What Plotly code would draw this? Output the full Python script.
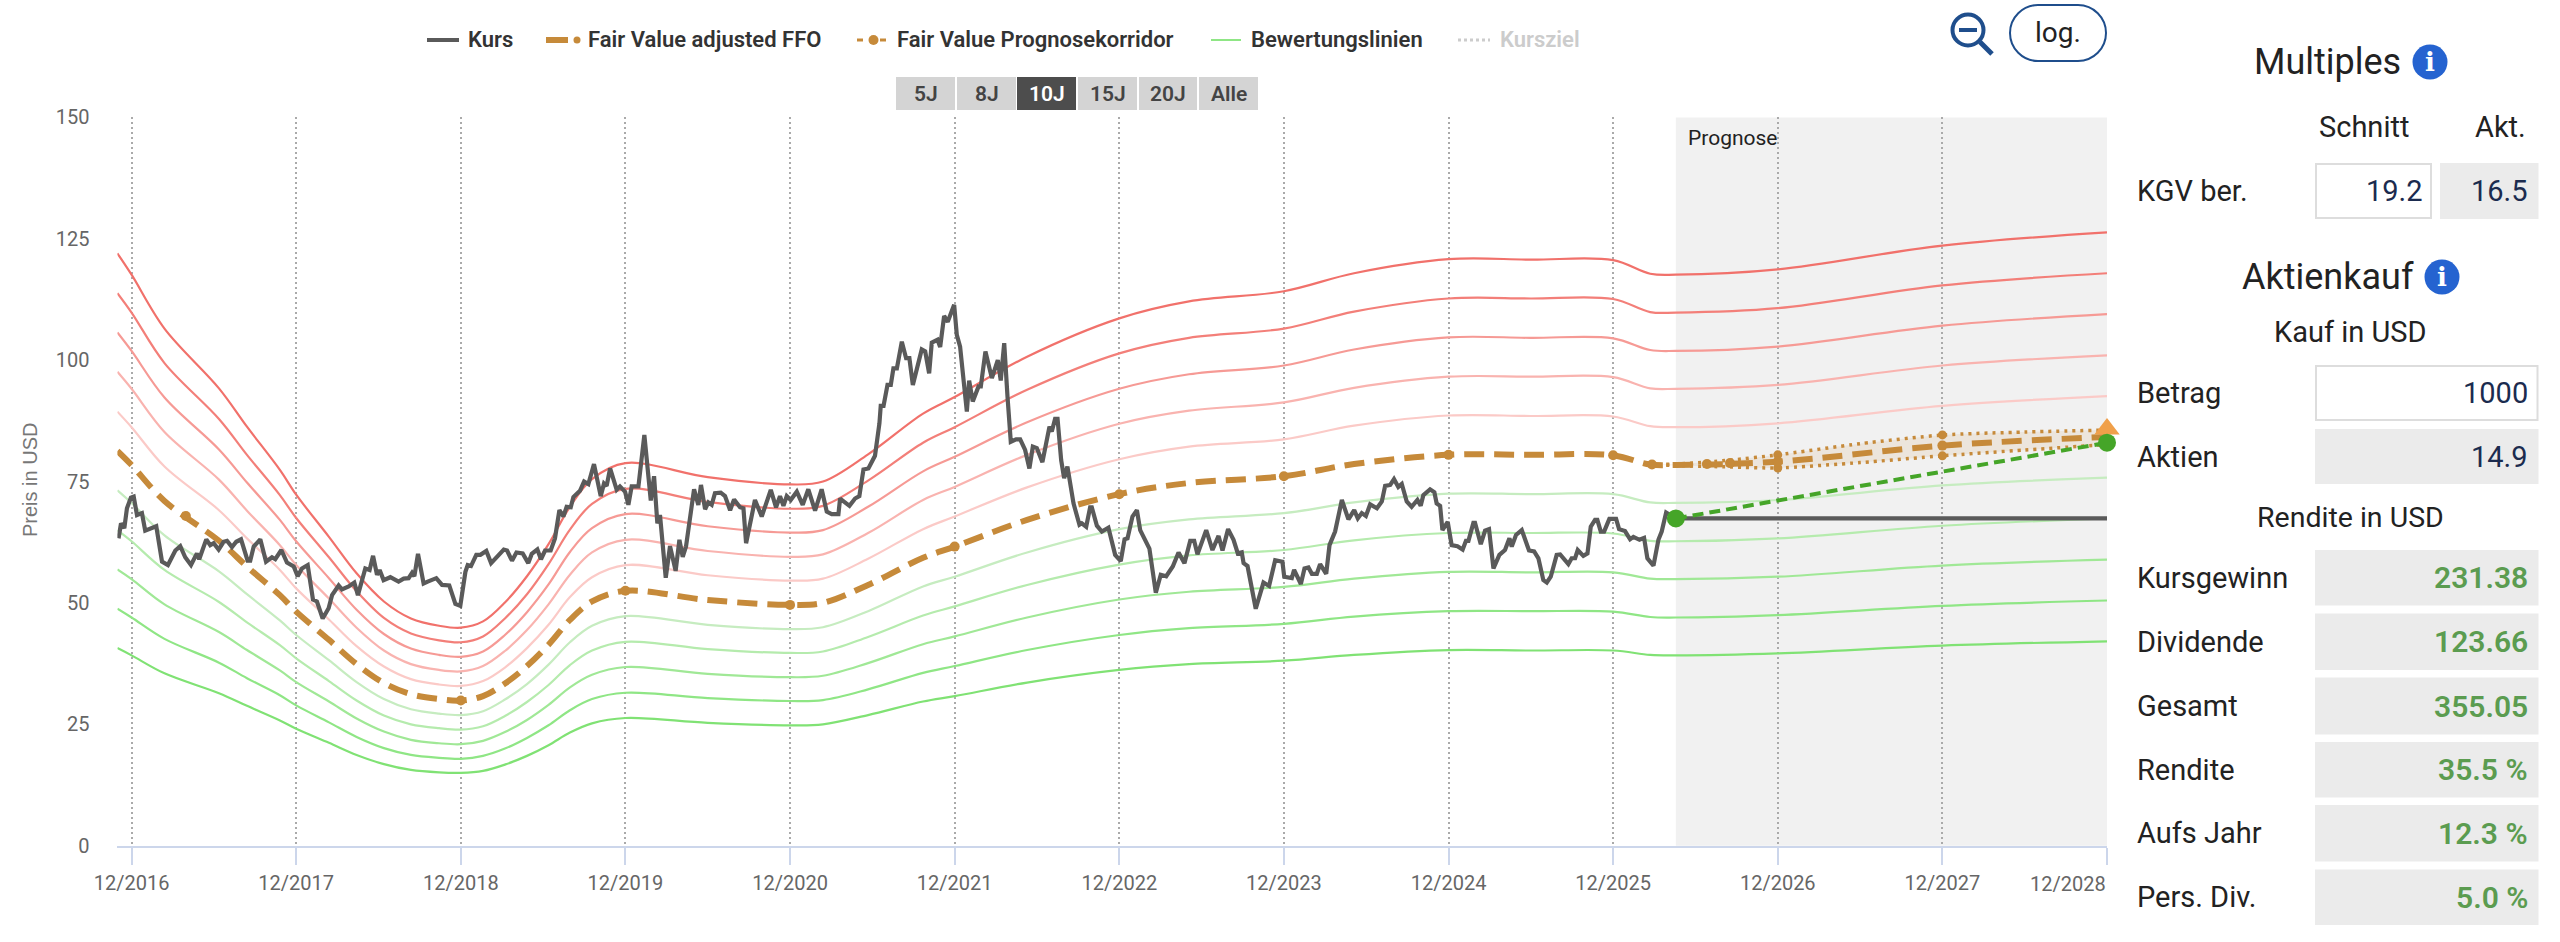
import plotly.graph_objects as go

W = 2560
H = 942

# x values are decimal years, 2017.0 is the tick "12/2016"
tick_years = [2017, 2018, 2019, 2020, 2021, 2022, 2023, 2024, 2025, 2026, 2027, 2028, 2029]
tick_labels = ["12/2016", "12/2017", "12/2018", "12/2019", "12/2020", "12/2021", "12/2022",
               "12/2023", "12/2024", "12/2025", "12/2026", "12/2027", ""]
y_ticks = [0, 25, 50, 75, 100, 125, 150]
forecast_start = 2026.381
x_end = 2029.0

fv_years = [2016.914, 2017.0, 2017.2, 2017.531, 2017.701, 2017.901, 2018.0, 2018.199, 2018.367, 2018.533,
            2018.697, 2018.868, 2019.0, 2019.135, 2019.268, 2019.402, 2019.533, 2019.663, 2019.797, 2020.0,
            2020.5, 2021.0, 2021.2, 2021.474, 2021.808, 2022.0, 2022.44, 2023.0, 2023.424, 2024.0,
            2024.426, 2025.0, 2025.5, 2026.0, 2026.225, 2026.381, 2027.0, 2028.0, 2029.0]
fair_value = [81.3, 78.4, 71.0, 62.8, 57.5, 51.6, 48.2, 42.4, 37.4, 33.5, 31.2, 30.2, 29.9, 30.8, 33.4, 37.0,
              41.4, 46.5, 50.3, 52.5, 50.6, 49.6, 50.0, 53.7, 59.3, 61.6, 67.1, 72.4, 74.7, 76.1, 78.6, 80.5,
              80.5, 80.4, 78.5, 78.4, 79.1, 82.4, 84.2]
red_150 = [122.0, 117.6, 106.5, 94.2, 86.3, 77.4, 72.3, 63.6, 56.1, 50.3, 46.8, 45.3, 44.9, 46.2, 50.1, 55.5,
           62.1, 69.8, 75.5, 78.8, 75.9, 74.4, 75.0, 80.6, 89.0, 92.4, 100.7, 108.6, 112.1, 114.2, 117.9, 120.8,
           120.7, 120.6, 117.8, 117.6, 118.7, 123.6, 126.3]
red_140 = [113.8, 109.8, 99.4, 87.9, 80.5, 72.2, 67.5, 59.4, 52.4, 46.9, 43.7, 42.3, 41.9, 43.1, 46.8, 51.8,
           58.0, 65.1, 70.4, 73.5, 70.8, 69.4, 70.0, 75.2, 83.0, 86.2, 93.9, 101.4, 104.6, 106.5, 110.0, 112.7,
           112.7, 112.6, 109.9, 109.8, 110.7, 115.4, 117.9]
red_130 = [105.7, 101.9, 92.3, 81.6, 74.8, 67.1, 62.7, 55.1, 48.6, 43.6, 40.6, 39.3, 38.9, 40.0, 43.4, 48.1,
           53.8, 60.5, 65.4, 68.3, 65.8, 64.5, 65.0, 69.8, 77.1, 80.1, 87.2, 94.1, 97.1, 98.9, 102.2, 104.7,
           104.6, 104.5, 102.1, 101.9, 102.8, 107.1, 109.5]
red_120 = [97.6, 94.1, 85.2, 75.4, 69.0, 61.9, 57.8, 50.9, 44.9, 40.2, 37.4, 36.2, 35.9, 37.0, 40.1, 44.4,
           49.7, 55.8, 60.4, 63.0, 60.7, 59.5, 60.0, 64.4, 71.2, 73.9, 80.5, 86.9, 89.6, 91.3, 94.3, 96.6,
           96.6, 96.5, 94.2, 94.1, 94.9, 98.9, 101.0]
red_110 = [89.4, 86.2, 78.1, 69.1, 63.3, 56.8, 53.0, 46.6, 41.1, 36.9, 34.3, 33.2, 32.9, 33.9, 36.7, 40.7,
           45.5, 51.2, 55.3, 57.8, 55.7, 54.6, 55.0, 59.1, 65.2, 67.8, 73.8, 79.6, 82.2, 83.7, 86.5, 88.6,
           88.5, 88.4, 86.4, 86.2, 87.0, 90.6, 92.6]
green_90 = [73.2, 70.6, 63.9, 56.5, 51.8, 46.4, 43.4, 38.2, 33.7, 30.2, 28.1, 27.2, 26.9, 27.7, 30.1, 33.3,
            37.3, 41.9, 45.3, 47.3, 45.5, 44.6, 45.0, 48.3, 53.4, 55.4, 60.4, 65.2, 67.2, 68.5, 70.7, 72.5,
            72.4, 72.4, 70.7, 70.6, 71.2, 74.2, 75.8]
green_80 = [65.0, 62.7, 56.8, 50.2, 46.0, 41.3, 38.6, 33.9, 29.9, 26.8, 25.0, 24.2, 23.9, 24.6, 26.7, 29.6,
            33.1, 37.2, 40.2, 42.0, 40.5, 39.7, 40.0, 43.0, 47.4, 49.3, 53.7, 57.9, 59.8, 60.9, 62.9, 64.4,
            64.4, 64.3, 62.8, 62.7, 63.3, 65.9, 67.4]
green_70 = [56.9, 54.9, 49.7, 44.0, 40.3, 36.1, 33.7, 29.7, 26.2, 23.5, 21.8, 21.1, 20.9, 21.6, 23.4, 25.9,
            29.0, 32.6, 35.2, 36.8, 35.4, 34.7, 35.0, 37.6, 41.5, 43.1, 47.0, 50.7, 52.3, 53.3, 55.0, 56.4,
            56.3, 56.3, 55.0, 54.9, 55.4, 57.7, 58.9]
green_60 = [48.8, 47.0, 42.6, 37.7, 34.5, 31.0, 28.9, 25.4, 22.4, 20.1, 18.7, 18.1, 17.9, 18.5, 20.0, 22.2,
            24.8, 27.9, 30.2, 31.5, 30.4, 29.8, 30.0, 32.2, 35.6, 37.0, 40.3, 43.4, 44.8, 45.7, 47.2, 48.3,
            48.3, 48.2, 47.1, 47.0, 47.5, 49.4, 50.5]
green_50 = [40.7, 39.2, 35.5, 31.4, 28.8, 25.8, 24.1, 21.2, 18.7, 16.8, 15.6, 15.1, 15.0, 15.4, 16.7, 18.5,
            20.7, 23.3, 25.2, 26.3, 25.3, 24.8, 25.0, 26.9, 29.7, 30.8, 33.6, 36.2, 37.4, 38.1, 39.3, 40.3,
            40.2, 40.2, 39.3, 39.2, 39.6, 41.2, 42.1]

fv_dot_years = [2017.33, 2019.0, 2020.0, 2021.0, 2022.0, 2023.0, 2024.0, 2025.0, 2026.0,
                2026.236, 2026.57, 2026.71, 2027.0, 2028.0]
fv_dot_values = [67.9, 29.9, 52.5, 49.6, 61.6, 72.4, 76.1, 80.5, 80.4,
                 78.5, 78.6, 78.8, 79.1, 82.4]

corridor_years = [2026.225, 2026.381, 2026.71, 2027.0, 2027.5, 2028.0, 2028.5, 2029.0]
corridor_high = [78.5, 78.6, 79.4, 80.5, 82.8, 84.6, 85.2, 85.6]
corridor_low = [78.5, 78.3, 78.0, 77.8, 78.9, 80.3, 81.5, 82.6]
corridor_dot_years = [2027.0, 2027.0, 2028.0, 2028.0]
corridor_dot_values = [80.5, 77.8, 84.6, 80.3]

kurs_years = [2016.921, 2016.936, 2016.956, 2016.972, 2016.996, 2017.013, 2017.033, 2017.063, 2017.083, 2017.150,
              2017.185, 2017.221, 2017.266, 2017.296, 2017.326, 2017.361, 2017.397, 2017.411, 2017.454, 2017.478,
              2017.499, 2017.529, 2017.559, 2017.580, 2017.610, 2017.636, 2017.665, 2017.705, 2017.721, 2017.742,
              2017.782, 2017.817, 2017.853, 2017.873, 2017.910, 2017.944, 2017.985, 2018.009, 2018.035, 2018.070,
              2018.102, 2018.126, 2018.161, 2018.197, 2018.218, 2018.258, 2018.278, 2018.319, 2018.353, 2018.375,
              2018.420, 2018.446, 2018.467, 2018.491, 2018.507, 2018.531, 2018.572, 2018.622, 2018.653, 2018.683,
              2018.704, 2018.718, 2018.740, 2018.774, 2018.799, 2018.851, 2018.886, 2018.930, 2018.967, 2018.997,
              2019.028, 2019.042, 2019.062, 2019.094, 2019.119, 2019.155, 2019.184, 2019.220, 2019.261, 2019.281,
              2019.311, 2019.338, 2019.376, 2019.410, 2019.431, 2019.465, 2019.487, 2019.512, 2019.546, 2019.572,
              2019.599, 2019.623, 2019.643, 2019.668, 2019.684, 2019.724, 2019.749, 2019.775, 2019.809, 2019.850,
              2019.870, 2019.886, 2019.907, 2019.947, 2019.967, 2019.998, 2020.018, 2020.038, 2020.079, 2020.115,
              2020.154, 2020.174, 2020.194, 2020.210, 2020.245, 2020.271, 2020.305, 2020.328, 2020.348, 2020.368,
              2020.417, 2020.443, 2020.459, 2020.484, 2020.504, 2020.524, 2020.544, 2020.579, 2020.605, 2020.636,
              2020.660, 2020.696, 2020.717, 2020.733, 2020.787, 2020.828, 2020.883, 2020.915, 2020.939, 2020.960,
              2020.980, 2021.004, 2021.041, 2021.077, 2021.111, 2021.152, 2021.192, 2021.223, 2021.253, 2021.294,
              2021.304, 2021.361, 2021.395, 2021.421, 2021.446, 2021.476, 2021.516, 2021.543, 2021.551, 2021.568,
              2021.592, 2021.612, 2021.628, 2021.649, 2021.679, 2021.705, 2021.725, 2021.746, 2021.800, 2021.821,
              2021.845, 2021.861, 2021.896, 2021.912, 2021.936, 2021.958, 2021.997, 2022.013, 2022.033, 2022.074,
              2022.088, 2022.110, 2022.145, 2022.159, 2022.187, 2022.226, 2022.262, 2022.280, 2022.301, 2022.321,
              2022.341, 2022.373, 2022.398, 2022.428, 2022.454, 2022.475, 2022.499, 2022.533, 2022.576, 2022.590,
              2022.610, 2022.625, 2022.647, 2022.665, 2022.685, 2022.722, 2022.758, 2022.772, 2022.799, 2022.823,
              2022.833, 2022.864, 2022.894, 2022.934, 2022.975, 2023.009, 2023.032, 2023.050, 2023.080, 2023.107,
              2023.127, 2023.183, 2023.222, 2023.252, 2023.285, 2023.325, 2023.360, 2023.396, 2023.431, 2023.455,
              2023.475, 2023.528, 2023.566, 2023.603, 2023.627, 2023.661, 2023.694, 2023.720, 2023.744, 2023.755,
              2023.779, 2023.829, 2023.876, 2023.910, 2023.947, 2023.991, 2024.002, 2024.048, 2024.062, 2024.103,
              2024.125, 2024.149, 2024.170, 2024.200, 2024.220, 2024.257, 2024.277, 2024.311, 2024.352, 2024.392,
              2024.427, 2024.449, 2024.473, 2024.498, 2024.524, 2024.565, 2024.595, 2024.615, 2024.646, 2024.669,
              2024.695, 2024.716, 2024.746, 2024.776, 2024.811, 2024.831, 2024.847, 2024.888, 2024.914, 2024.928,
              2024.949, 2024.963, 2024.995, 2025.019, 2025.054, 2025.086, 2025.106, 2025.121, 2025.151, 2025.161,
              2025.196, 2025.222, 2025.246, 2025.273, 2025.309, 2025.343, 2025.370, 2025.384, 2025.410, 2025.445,
              2025.489, 2025.520, 2025.546, 2025.576, 2025.597, 2025.621, 2025.657, 2025.678, 2025.728, 2025.748,
              2025.769, 2025.785, 2025.819, 2025.844, 2025.864, 2025.890, 2025.904, 2025.925, 2025.945, 2025.977,
              2026.018, 2026.036, 2026.072, 2026.103, 2026.123, 2026.160, 2026.188, 2026.208, 2026.245, 2026.275,
              2026.295, 2026.322, 2026.381, 2029.0]
kurs_values = [63.3, 66.4, 65.4, 69.5, 71.7, 71.9, 68.1, 68.5, 64.9, 65.8,
               58.5, 57.8, 60.8, 61.7, 59.4, 57.8, 60.2, 59.0, 63.1, 61.9,
               62.3, 61.0, 62.6, 62.8, 61.5, 62.6, 63.1, 58.7, 58.7, 61.6,
               63.1, 58.5, 59.4, 59.0, 60.9, 58.3, 57.5, 55.5, 57.1, 57.8,
               50.7, 50.3, 46.8, 48.9, 51.6, 53.6, 52.8, 53.4, 54.2, 51.6,
               57.1, 56.8, 59.7, 55.8, 56.8, 54.7, 55.3, 54.4, 55.0, 55.1,
               56.2, 55.5, 60.1, 54.0, 54.4, 55.1, 53.7, 53.6, 49.8, 49.4,
               56.4, 57.8, 57.6, 59.9, 59.9, 60.7, 58.2, 59.5, 61.0, 60.8,
               58.7, 60.4, 60.2, 58.2, 60.1, 61.0, 59.0, 60.8, 60.8, 63.3,
               69.1, 67.8, 69.8, 69.7, 71.8, 73.1, 75.0, 74.5, 78.6, 72.0,
               74.6, 74.1, 77.7, 73.3, 74.0, 72.9, 70.2, 74.0, 74.0, 84.6,
               71.1, 76.1, 66.4, 68.1, 55.2, 61.7, 56.6, 63.0, 59.5, 61.6,
               73.4, 70.2, 74.3, 69.3, 70.7, 70.2, 72.6, 72.7, 72.0, 69.1,
               71.3, 69.7, 69.5, 62.3, 71.2, 67.8, 73.3, 69.7, 72.0, 70.0,
               72.0, 71.2, 72.9, 70.2, 73.4, 69.0, 73.4, 68.8, 68.3, 68.3,
               71.5, 70.0, 71.5, 72.0, 77.5, 77.7, 80.3, 87.0, 90.6, 90.6,
               94.9, 94.9, 98.3, 98.3, 103.8, 100.4, 100.4, 94.9, 102.2, 101.8,
               97.3, 103.6, 104.2, 102.7, 109.1, 107.9, 111.4, 105.2, 102.8, 89.4,
               95.8, 91.5, 94.6, 94.6, 101.8, 96.3, 100.0, 95.8, 103.5, 92.5,
               83.2, 83.7, 83.7, 81.5, 77.7, 82.2, 81.9, 79.0, 86.3, 85.3,
               87.9, 87.9, 79.4, 75.7, 78.1, 70.5, 66.1, 66.4, 65.7, 69.7,
               69.7, 65.9, 64.7, 65.5, 59.9, 58.6, 63.1, 63.3, 67.8, 69.1,
               65.0, 61.2, 52.1, 55.8, 55.5, 57.5, 60.4, 58.2, 62.8, 62.8,
               60.0, 65.0, 60.9, 63.8, 60.8, 65.2, 63.0, 60.2, 60.4, 58.2,
               57.6, 48.8, 54.2, 53.5, 58.8, 58.5, 55.4, 55.1, 56.8, 53.9,
               57.1, 57.3, 56.0, 56.0, 58.0, 56.0, 61.9, 64.7, 71.2, 67.2,
               69.1, 67.4, 68.5, 67.9, 70.3, 69.5, 70.9, 74.1, 74.3, 75.5,
               73.9, 74.5, 70.9, 69.8, 71.2, 70.0, 72.2, 73.4, 72.8, 70.5,
               70.0, 65.0, 66.7, 61.9, 61.7, 61.0, 62.8, 62.8, 66.5, 66.5,
               62.1, 64.9, 65.2, 57.1, 59.9, 60.9, 63.3, 61.6, 64.0, 65.0,
               60.8, 60.6, 59.2, 54.7, 54.2, 55.4, 59.9, 60.0, 58.0, 59.2,
               59.2, 60.9, 59.7, 60.2, 65.7, 67.1, 67.1, 64.7, 64.7, 67.3,
               67.3, 65.2, 64.8, 63.1, 63.6, 63.0, 63.4, 59.2, 57.7, 63.0,
               64.7, 68.6, 67.4, 67.4]

target_years = [forecast_start, x_end]
target_values = [67.4, 83.0]
kursziel_value = 85.8

range_buttons = ["5J", "8J", "10J", "15J", "20J", "Alle"]
rendite_labels = ["Kursgewinn", "Dividende", "Gesamt", "Rendite", "Aufs Jahr", "Pers. Div."]
rendite_values = ["231.38", "123.66", "355.05", "35.5 %", "12.3 %", "5.0 %"]

FONT = "Roboto"
C_KURS = "#5a5a5a"
C_FV = "#c68a3a"
C_GREEN = "#45a528"
C_NAVY = "#1b2b4f"
C_VAL_GREEN = "#5b9c50"
C_BOX = "#ebebeb"
C_BLUE = "#1f4e8c"
C_INFO = "#2563d0"


def px(x):
    return x / W


def py(y):
    return 1 - y / H


shapes = []
annotations = []


def text(x, y, s, size=28, color="#222222", anchor="left", weight=400, family=FONT):
    annotations.append(dict(
        x=px(x), y=py(y), xref="paper", yref="paper", text=s, showarrow=False,
        xanchor=anchor, yanchor="middle", borderpad=0,
        font=dict(family=family, size=size, color=color, weight=weight)))


def rect(x0, y0, x1, y1, fill, border=None):
    shapes.append(dict(
        type="rect", xref="paper", yref="paper", x0=px(x0), x1=px(x1), y0=py(y0), y1=py(y1),
        fillcolor=fill, line=dict(color=border, width=2) if border else dict(width=0)))


def seg(x0, y0, x1, y1, color, width, dash=None):
    shapes.append(dict(
        type="line", xref="paper", yref="paper", x0=px(x0), x1=px(x1), y0=py(y0), y1=py(y1),
        line=dict(color=color, width=width, dash=dash)))


def dot(cx, cy, r, fill, border=None, width=0):
    shapes.append(dict(
        type="circle", xref="paper", yref="paper",
        x0=px(cx - r), x1=px(cx + r), y0=py(cy + r), y1=py(cy - r),
        fillcolor=fill, line=dict(color=border, width=width) if border else dict(width=0)))


def info_icon(cx, cy):
    dot(cx, cy, 17.5, C_INFO)
    text(cx, cy, "<b>i</b>", size=26, color="white", anchor="center", family="DejaVu Serif")


fig = go.Figure()

band_lines = [
    (red_150, "#f1716b"), (red_140, "#f37f79"), (red_130, "#f69a95"), (red_120, "#f9b3af"), (red_110, "#fbcac7"),
    (green_90, "#c6ecc0"), (green_80, "#b5ebad"), (green_70, "#a0e896"), (green_60, "#8fe685"), (green_50, "#80e274"),
]
for band, color in band_lines:
    fig.add_trace(go.Scatter(x=fv_years, y=band, mode="lines", showlegend=False,
                             line=dict(color=color, width=2.2, shape="spline", smoothing=1.0)))

fig.add_trace(go.Scatter(x=corridor_years, y=corridor_high, mode="lines", showlegend=False,
                         line=dict(color=C_FV, width=3.5, dash="3px,5px", shape="spline", smoothing=0.6)))
fig.add_trace(go.Scatter(x=corridor_years, y=corridor_low, mode="lines", showlegend=False, fill="tonexty",
                         fillcolor="rgba(198,138,58,0.11)",
                         line=dict(color=C_FV, width=3.5, dash="3px,5px", shape="spline", smoothing=0.6)))
fig.add_trace(go.Scatter(x=corridor_dot_years, y=corridor_dot_values, mode="markers", showlegend=False,
                         marker=dict(color=C_FV, size=9)))

fig.add_trace(go.Scatter(x=fv_years, y=fair_value, mode="lines", showlegend=False,
                         line=dict(color=C_FV, width=6, dash="20px,10px", shape="spline", smoothing=1.0)))
fig.add_trace(go.Scatter(x=fv_dot_years, y=fv_dot_values, mode="markers", showlegend=False,
                         marker=dict(color=C_FV, size=10)))

fig.add_trace(go.Scatter(x=kurs_years, y=kurs_values, mode="lines", showlegend=False,
                         line=dict(color=C_KURS, width=4.2)))

fig.add_trace(go.Scatter(x=target_years, y=target_values, mode="lines", showlegend=False,
                         line=dict(color=C_GREEN, width=4, dash="11px,6px")))
fig.add_trace(go.Scatter(x=[x_end], y=[kursziel_value], mode="markers", showlegend=False, cliponaxis=False,
                         marker=dict(color="#f0a04a", size=22, symbol="triangle-up")))
fig.add_trace(go.Scatter(x=target_years, y=target_values, mode="markers", showlegend=False, cliponaxis=False,
                         marker=dict(color=C_GREEN, size=18)))

# forecast area
shapes.append(dict(type="rect", xref="x", yref="y domain", x0=forecast_start, x1=x_end, y0=0, y1=1,
                   fillcolor="#f1f1f1", line=dict(width=0), layer="below"))
text(1687, 138, "Prognose", size=21, color="#222222")

# last tick label sits left of its tick
text(2107, 884, "12/2028", size=20, color="#666666", anchor="right")
text(30, 480, "Preis in USD", size=20, color="#777777", anchor="center", family="Liberation Sans")
annotations[-1]["textangle"] = -90

# legend
LEG_Y = 40
LEG_SIZE = 22
seg(427, LEG_Y, 459, LEG_Y, C_KURS, 4)
text(467, LEG_Y, "Kurs", size=LEG_SIZE, color="#333333", weight=600)
seg(546, LEG_Y, 568, LEG_Y, C_FV, 6)
dot(577, LEG_Y, 3.5, C_FV)
text(587, LEG_Y, "Fair Value adjusted FFO", size=LEG_SIZE, color="#333333", weight=600)
seg(857, LEG_Y, 863, LEG_Y, C_FV, 3)
dot(873.5, LEG_Y, 5, C_FV)
seg(880, LEG_Y, 886, LEG_Y, C_FV, 3)
text(896, LEG_Y, "Fair Value Prognosekorridor", size=LEG_SIZE, color="#333333", weight=600)
seg(1211, LEG_Y, 1241, LEG_Y, "#8fe685", 2)
text(1250, LEG_Y, "Bewertungslinien", size=LEG_SIZE, color="#333333", weight=600)
seg(1458, LEG_Y, 1490, LEG_Y, "#cccccc", 3, "3px,3px")
text(1499, LEG_Y, "Kursziel", size=LEG_SIZE, color="#cccccc", weight=600)

# range buttons
btn_x0 = [896, 957, 1017, 1078, 1139, 1199]
btn_x1 = [955, 1016, 1076, 1137, 1197, 1258]
for i, label in enumerate(range_buttons):
    active = label == "10J"
    rect(btn_x0[i], 77, btn_x1[i], 110, "#4d4d4d" if active else "#d4d4d4")
    text((btn_x0[i] + btn_x1[i]) / 2, 94, label, size=21, anchor="center", weight=600,
         color="white" if active else "#444444")

# zoom icon and log button
dot(1968, 30, 15.5, "rgba(0,0,0,0)", C_BLUE, 4)
seg(1959, 30, 1977, 30, C_BLUE, 4)
seg(1980, 42, 1992, 54, C_BLUE, 5)
px0, px1, py0, py1, r = 2010, 2106, 5, 61, 28
kx = r * 0.45
shapes.append(dict(
    type="path", xref="paper", yref="paper", line=dict(color=C_BLUE, width=2),
    path=(f"M {px(px0 + r)} {py(py0)} L {px(px1 - r)} {py(py0)} "
          f"C {px(px1 - kx)} {py(py0)} {px(px1)} {py(py0 + kx)} {px(px1)} {py(py0 + r)} "
          f"C {px(px1)} {py(py1 - kx)} {px(px1 - kx)} {py(py1)} {px(px1 - r)} {py(py1)} "
          f"L {px(px0 + r)} {py(py1)} "
          f"C {px(px0 + kx)} {py(py1)} {px(px0)} {py(py1 - kx)} {px(px0)} {py(py1 - r)} "
          f"C {px(px0)} {py(py0 + kx)} {px(px0 + kx)} {py(py0)} {px(px0 + r)} {py(py0)} Z")))
text(2058, 33, "log.", size=28, color="#222222", anchor="center")

# right panel
LABEL_X = 2136
BOX_X0 = 2315
BOX_X1 = 2538.5
VALUE_X = 2528.5

text(2253, 62, "Multiples", size=36)
info_icon(2430, 62)
text(2318, 127, "Schnitt", size=29)
text(2474, 127, "Akt.", size=29)
text(LABEL_X, 191, "KGV ber.", size=29)
rect(2316, 164, 2431, 218, "white", "#dddddd")
text(2424, 191, "19.2", size=29, color=C_NAVY, anchor="right")
rect(2440, 163, BOX_X1, 219, C_BOX)
text(VALUE_X, 191, "16.5", size=29, color=C_NAVY, anchor="right")

text(2241, 277, "Aktienkauf", size=36)
info_icon(2442, 277)
text(2350, 332, "Kauf in USD", size=29, anchor="center")
text(LABEL_X, 393, "Betrag", size=29)
rect(BOX_X0 + 1, 366, BOX_X1 - 1, 420, "white", "#dddddd")
text(VALUE_X, 393, "1000", size=29, color=C_NAVY, anchor="right")
text(LABEL_X, 457, "Aktien", size=29)
rect(BOX_X0, 429, BOX_X1, 484, C_BOX)
text(VALUE_X, 457, "14.9", size=29, color=C_NAVY, anchor="right")

text(2350, 517, "Rendite in USD", size=28.5, anchor="center")
row_top = [550, 613.5, 677.5, 742, 805, 869.5]
row_bottom = [605.5, 670, 734.5, 797.5, 861.5, 925]
for i, label in enumerate(rendite_labels):
    rect(BOX_X0, row_top[i], BOX_X1, row_bottom[i], C_BOX)
    mid = (row_top[i] + row_bottom[i]) / 2
    text(LABEL_X, mid, label, size=29)
    text(VALUE_X, mid, rendite_values[i], size=30, color=C_VAL_GREEN, anchor="right", weight=600)

fig.update_layout(
    width=W, height=H, autosize=False,
    margin=dict(l=0, r=0, t=0, b=0, autoexpand=False),
    paper_bgcolor="white", plot_bgcolor="white",
    showlegend=False,
    font=dict(family=FONT),
    shapes=shapes, annotations=annotations,
    xaxis=dict(
        domain=[px(117.4), px(2107)], range=[2016.914, x_end], automargin=False,
        tickmode="array", tickvals=tick_years, ticktext=tick_labels,
        showgrid=True, gridcolor="#aaaaaa", griddash="2px,3px", gridwidth=1.5,
        ticks="outside", ticklen=17, tickwidth=1.5, tickcolor="#ccd6eb",
        showline=True, linecolor="#ccd6eb", linewidth=2,
        zeroline=False, ticklabelstandoff=1,
        tickfont=dict(family=FONT, size=20, color="#666666"),
    ),
    yaxis=dict(
        domain=[py(845.7), py(117.4)], range=[0, 150], automargin=False,
        tickmode="array", tickvals=y_ticks,
        showgrid=False, zeroline=False, showline=False,
        ticks="", ticklabelstandoff=27,
        tickfont=dict(family=FONT, size=20, color="#666666"),
    ),
)

fig.write_html("out.html", config=dict(displayModeBar=False),
               post_script="document.body.style.margin='0';document.body.style.overflow='hidden';")
